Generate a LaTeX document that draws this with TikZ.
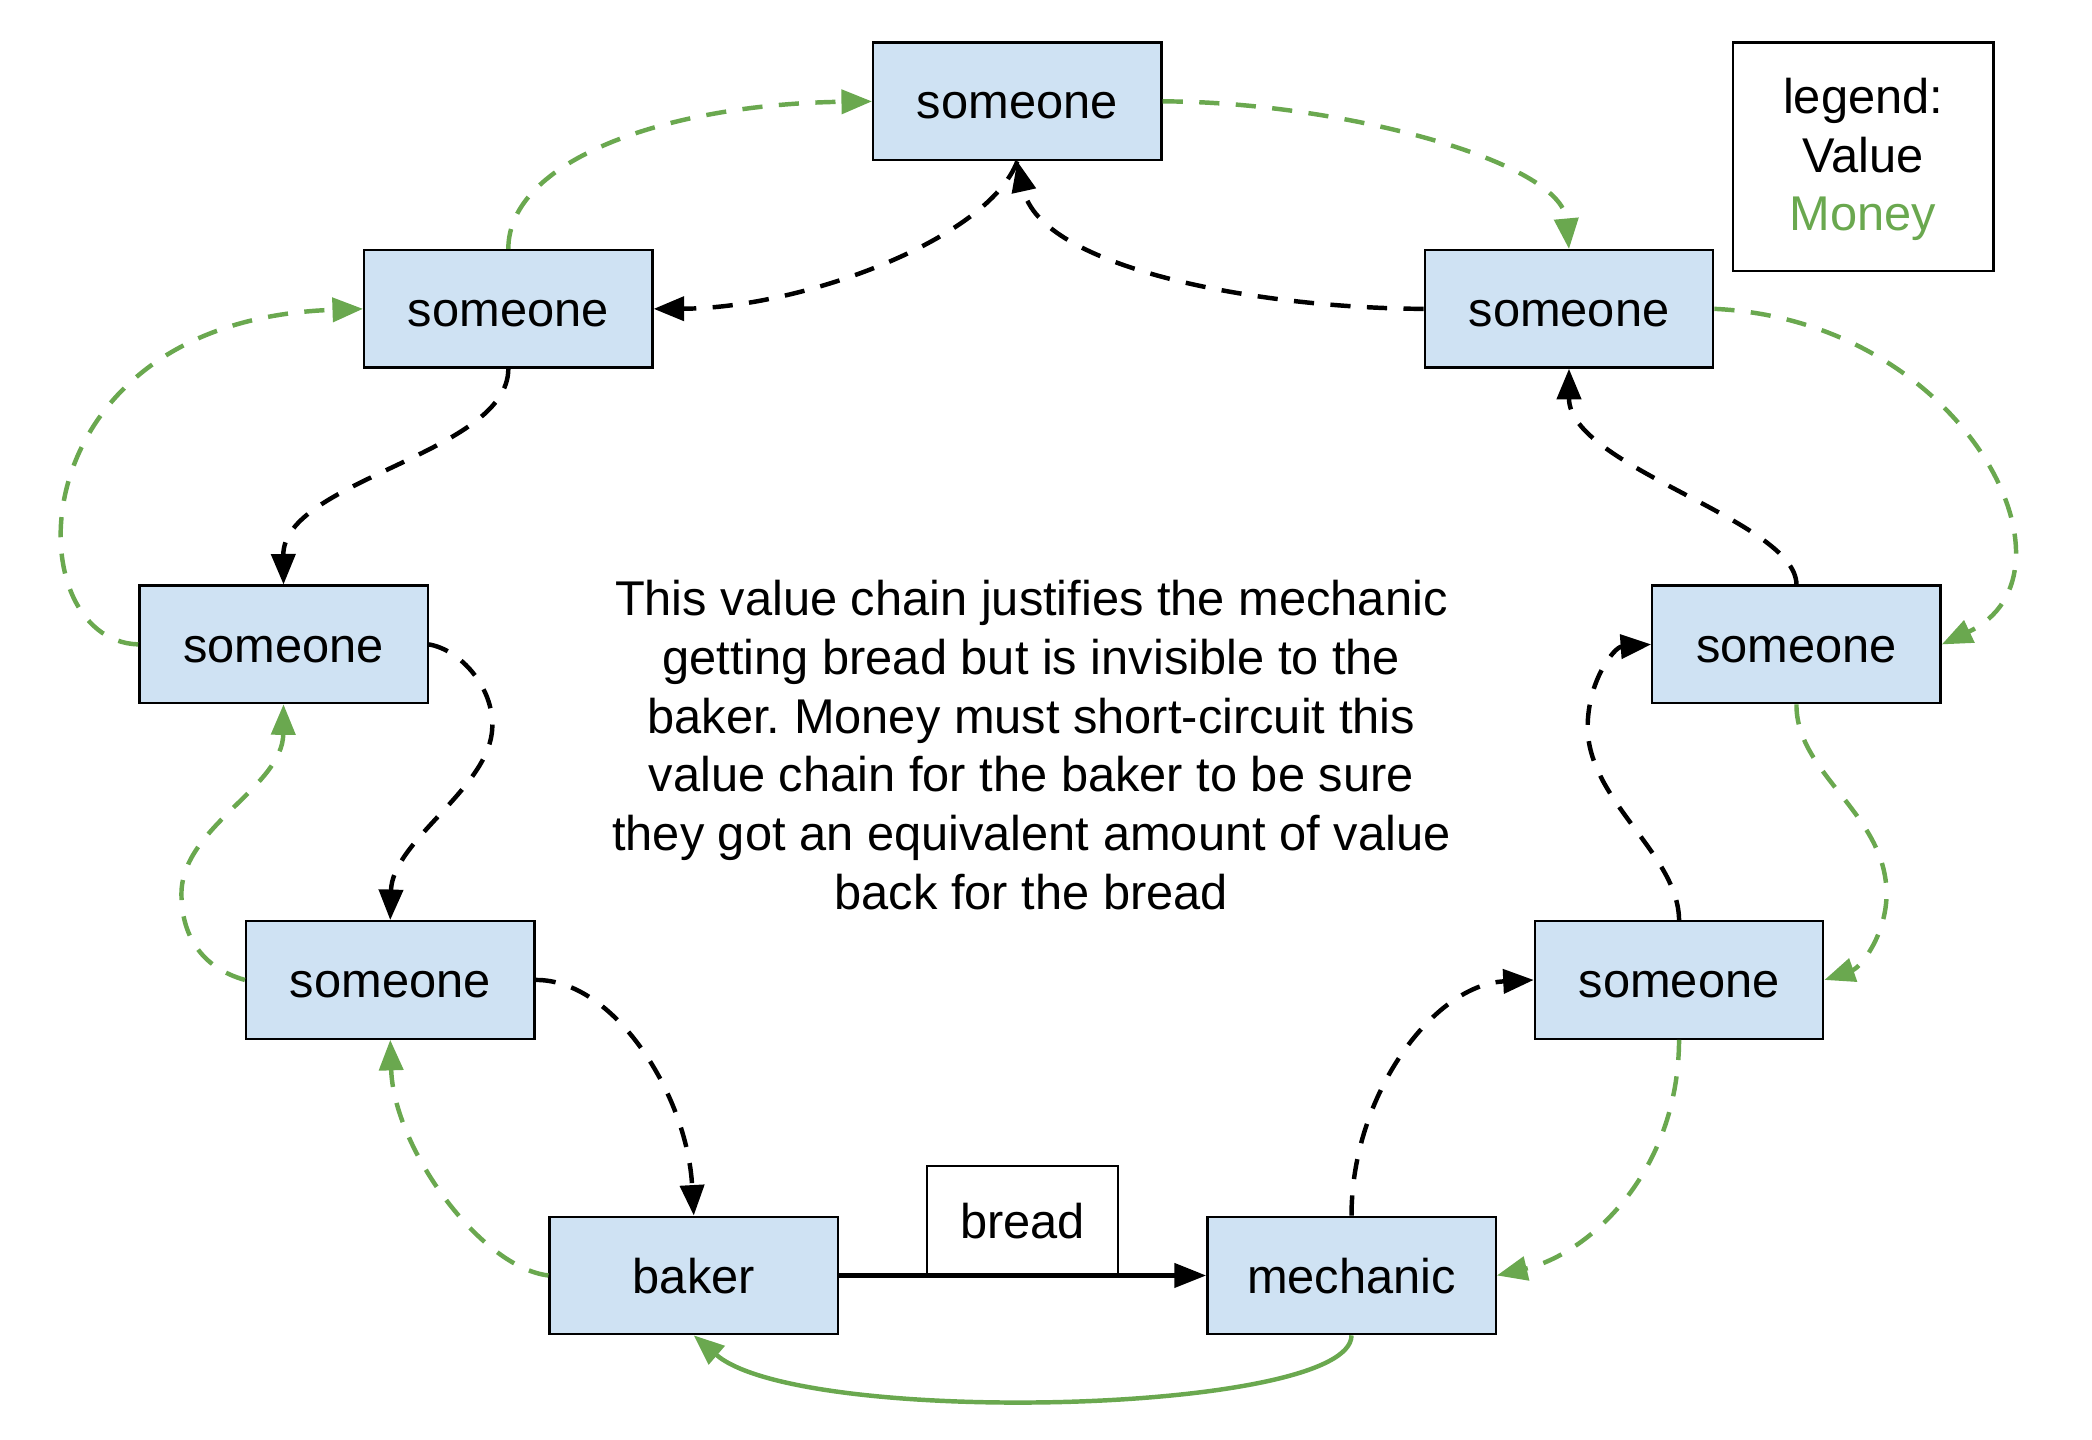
\documentclass[tikz,border=0pt]{standalone}
\usepackage{fontspec}
\setmainfont{Liberation Sans}
\usetikzlibrary{arrows.meta}
\definecolor{boxblue}{HTML}{CFE2F3}
\definecolor{moneygreen}{HTML}{6AA84F}
\frenchspacing
\begin{document}
\begin{tikzpicture}[x=0.01cm,y=-0.01cm,
  txt/.style={font=\fontsize{10.4}{12.5}\selectfont},
  person/.style={txt, draw=black, line width=0.5pt, fill=boxblue, minimum width=2.16cm, minimum height=0.88cm, inner sep=0pt, text height=0.95em, text depth=0.2em},
  tipv/.style={-{Triangle[length=6.5pt,width=5.1pt]}},
  valueflow/.style={draw=black, line width=0.95pt, dash pattern=on 4.3pt off 3.5pt, tipv},
  moneyflow/.style={draw=moneygreen, line width=0.95pt, dash pattern=on 4.3pt off 3.5pt, tipv},
  moneysolid/.style={draw=moneygreen, line width=0.95pt, tipv}]
\useasboundingbox (0,0) rectangle (1568,1079);
% boxes
\node[person] (top)   at (762.5,76)    {someone};
\node[person] (ul)    at (381,231.5)   {someone};
\node[person] (ur)    at (1176,231.5)  {someone};
\node[person] (lm)    at (212.5,483)   {someone};
\node[person] (rm)    at (1346.5,483)  {someone};
\node[person] (ll)    at (292.5,734.5) {someone};
\node[person] (lr)    at (1258.5,734.5){someone};
\node[person] (baker) at (520,956)     {baker};
\node[person] (mech)  at (1013,956)    {mechanic};
\node[txt, draw=black, line width=0.5pt, fill=white, minimum width=1.43cm, minimum height=0.82cm, inner sep=0pt] (bread) at (766.5,915) {bread};
\node[draw=black, line width=0.5pt, minimum width=1.95cm, minimum height=1.71cm, inner sep=0pt] (legend) at (1396.5,117.5) {};
\node[txt, align=center, inner sep=0pt] (legendtext) at (1396.5,119.5)
  {legend:\\Value\\\textcolor{moneygreen}{Money}};
\node[txt, align=center, inner sep=0pt] (note) at (773,558.5)
  {This value chain justifies the mechanic\\getting bread but is invisible to the\\baker. Money must short-circuit this\\value chain for the baker to be sure\\they got an equivalent amount of value\\back for the bread};
% value chain (black)
\draw[line width=1pt, -{Triangle[length=6.8pt,width=5.1pt]}] (baker.east) -- (mech.west);
\draw[valueflow] (ur.west) .. controls (940,231) and (780,200) .. (top.south);
\draw[valueflow] (top.south) .. controls (740,180) and (600,231) .. (ul.east);
\draw[valueflow] (ul.south) .. controls (381,340) and (212,360) .. (lm.north);
\draw[valueflow] (lm.east) .. controls (345,487) and (370,515) .. (369,545) .. controls (368,590) and (294,630) .. (ll.north);
\draw[valueflow] (ll.east) .. controls (460,734) and (515,820) .. (baker.north);
\draw[valueflow] (mech.north) .. controls (1013,820) and (1075,738) .. (lr.west);
\draw[valueflow] (lr.north) .. controls (1258,640) and (1190,600) .. (1190,545) .. controls (1190,510) and (1210,485) .. (rm.west);
\draw[valueflow] (rm.north) .. controls (1346,390) and (1176,350) .. (ur.south);
% money (green)
\draw[moneysolid] (mech.south) .. controls (1013,1060) and (600,1070) .. (baker.south);
\draw[moneyflow] (baker.west) .. controls (360,950) and (295,860) .. (ll.south);
\draw[moneyflow] (ll.west) .. controls (150,725) and (136,700) .. (136,670) .. controls (136,620) and (212,590) .. (lm.south);
\draw[moneyflow] (lm.west) .. controls (10,480) and (10,240) .. (ul.west);
\draw[moneyflow] (ul.north) .. controls (381,120) and (500,78) .. (top.west);
\draw[moneyflow] (top.east) .. controls (1000,76) and (1170,120) .. (ur.north);
\draw[moneyflow] (ur.east) .. controls (1472,240) and (1568,430) .. (rm.east);
\draw[moneyflow] (rm.south) .. controls (1346,580) and (1414,610) .. (1414,670) .. controls (1414,700) and (1395,725) .. (lr.east);
\draw[moneyflow] (lr.south) .. controls (1258,880) and (1190,940) .. (mech.east);
\end{tikzpicture}
\end{document}
